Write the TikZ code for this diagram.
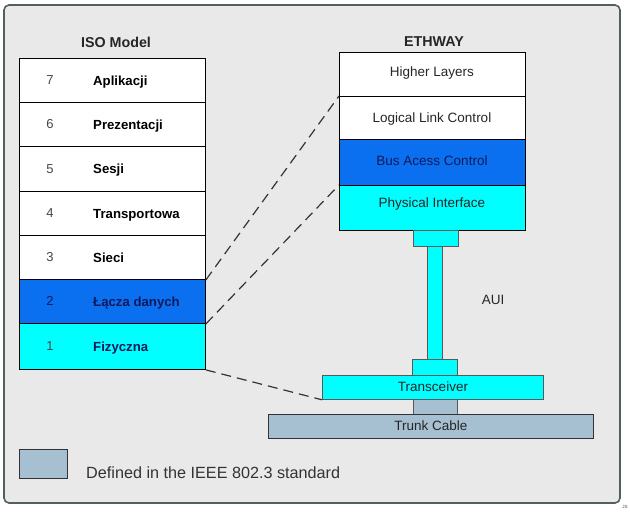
\documentclass[tikz,border=0pt]{standalone}
\usepackage{fontspec}
\setmainfont{Liberation Sans}
\definecolor{bgc}{RGB}{233,233,233}
\definecolor{framec}{RGB}{80,96,96}
\definecolor{blu}{RGB}{10,112,240}
\definecolor{cya}{RGB}{0,255,255}
\definecolor{cab}{RGB}{166,192,210}
\definecolor{navy}{RGB}{16,26,90}
\definecolor{numc}{RGB}{70,70,70}
\tikzset{
  box/.style={draw=black, line width=0.9pt, inner sep=0pt, anchor=north west},
  isorow/.style={box, minimum width=186pt},
  ethrow/.style={box, minimum width=186pt},
  conn/.style={draw=black!65, line width=0.8pt, inner sep=0pt, anchor=north west},
  num/.style={font=\fontsize{13}{15}\selectfont, text=numc, inner sep=0pt, anchor=base},
  lbl/.style={font=\bfseries\fontsize{13.2}{15}\selectfont, inner sep=0pt, anchor=base west},
  etxt/.style={font=\fontsize{13.5}{15}\selectfont, text=black!85, inner sep=0pt, anchor=base},
  title/.style={font=\bfseries\fontsize{14.3}{16}\selectfont, text=black!85, inner sep=0pt, anchor=base},
  dashln/.style={dash pattern=on 10pt off 6pt, line width=1.2pt, black!80}
}
\begin{document}
\begin{tikzpicture}[x=1pt,y=-1pt]
\useasboundingbox (0,0) rectangle (630,512);
\fill[white] (0,0) rectangle (630,512);
% frame
\draw[framec, line width=1.6pt, fill=bgc, rounded corners=5pt] (4,5) rectangle (620,503);
% ISO model
\node[title] (isot) at (116,47) {ISO Model};
\node[isorow, fill=white, minimum height=44pt] (iso7) at (19,58) {};
\node[isorow, fill=white, minimum height=44pt] (iso6) at (19,102) {};
\node[isorow, fill=white, minimum height=45pt] (iso5) at (19,146) {};
\node[isorow, fill=white, minimum height=44pt] (iso4) at (19,191) {};
\node[isorow, fill=white, minimum height=44pt] (iso3) at (19,235) {};
\node[isorow, fill=blu, minimum height=44pt] (iso2) at (19,279) {};
\node[isorow, fill=cya, minimum height=46pt] (iso1) at (19,323) {};
\foreach \r/\n/\t/\c/\d in {7/7/Aplikacji/black/numc, 6/6/Prezentacji/black/numc, 5/5/Sesji/black/numc, 4/4/Transportowa/black/numc, 3/3/Sieci/black/numc, 2/2/Łącza danych/navy/navy, 1/1/Fizyczna/navy/numc}{
  \node[num, text=\d] (n\r) at ([xshift=31pt,yshift=-4.5pt]iso\r.west) {\n};
  \node[lbl, text=\c] (l\r) at ([xshift=74pt,yshift=-5pt]iso\r.west) {\t};
}
% ETHWAY
\node[title] (etht) at (434,46) {ETHWAY};
\node[ethrow, fill=white, minimum height=44pt] (eth4) at (339,52) {};
\node[ethrow, fill=white, minimum height=43pt] (eth3) at (339,96) {};
\node[ethrow, fill=blu, minimum height=46pt] (eth2) at (339,139) {};
\node[ethrow, fill=cya, minimum height=45pt] (eth1) at (339,185) {};
\node[etxt] (e4) at (432,76) {Higher Layers};
\node[etxt] (e3) at (432,122) {Logical Link Control};
\node[etxt, text=navy] (e2) at (432,165) {Bus Acess Control};
\node[etxt] (e1) at (432,207) {Physical Interface};
% AUI
\node[conn, fill=cya, minimum width=45pt, minimum height=16pt] (c1) at (413,230) {};
\node[conn, fill=cya, minimum width=15pt, minimum height=113pt] (stem) at (427,246) {};
\node[conn, fill=cya, minimum width=45pt, minimum height=16pt] (c2) at (412,359) {};
\node[conn, fill=cya, minimum width=221pt, minimum height=24pt] (trx) at (322,375) {};
\node[conn, fill=cab, minimum width=44pt, minimum height=15pt] (c3) at (413,399) {};
\node[conn, draw=black!80, fill=cab, minimum width=325pt, minimum height=24pt] (trunk) at (268,414) {};
\node[etxt] (trxt) at (433,391) {Transceiver};
\node[etxt] (trunkt) at (431,430) {Trunk Cable};
\node[etxt] (aui) at (493,304) {AUI};
% dashed connectors
\draw[dashln] (iso3.south east) -- (eth3.north west);
\draw[dashln] (iso2.south east) -- (eth1.north west);
\draw[dashln] (iso1.south east) -- (trx.south west);
% legend
\node[conn, draw=black!80, fill=cab, minimum width=48pt, minimum height=29pt] (leg) at (19,449) {};
\node[font=\fontsize{16.2}{18}\selectfont, text=black!80, inner sep=0pt, anchor=base west] (legt) at (86,478) {Defined in the IEEE 802.3 standard};
\node[font=\fontsize{4.5}{5}\selectfont, text=black!70, inner sep=0pt] (js) at (625,507) {JS};
\end{tikzpicture}
\end{document}
